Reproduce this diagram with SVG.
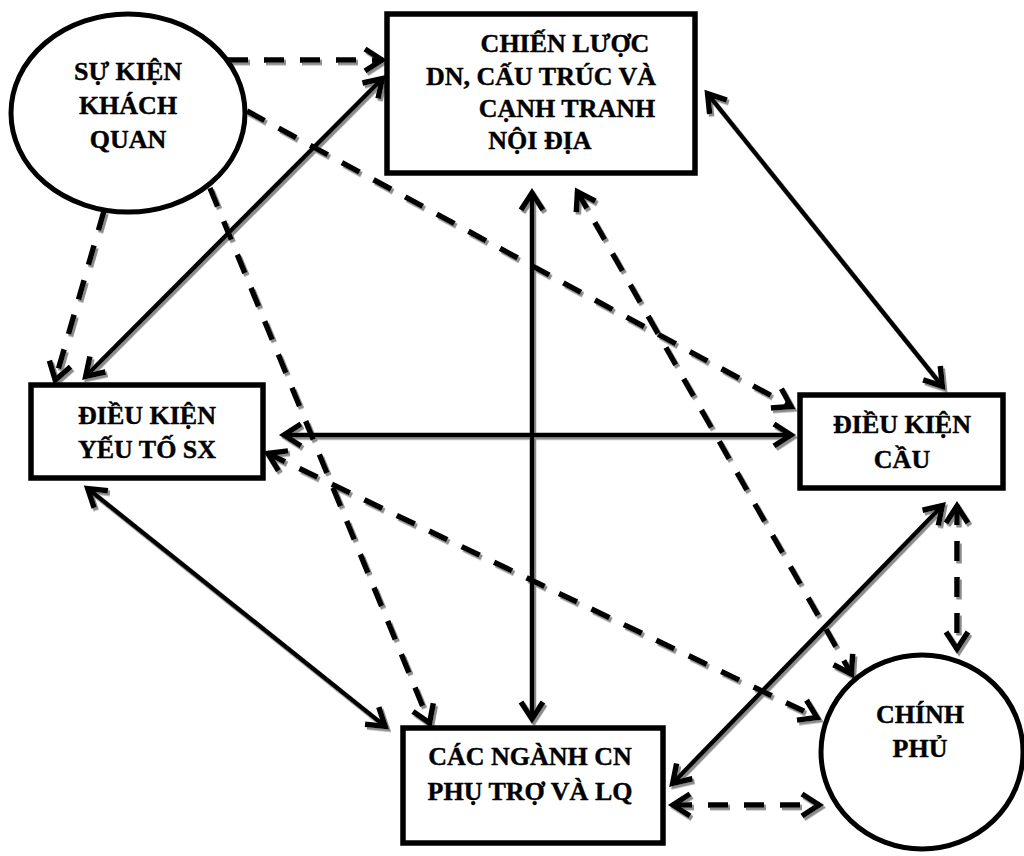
<svg xmlns="http://www.w3.org/2000/svg" width="1024" height="856" viewBox="0 0 1024 856">
<style>
.node{fill:#fff;stroke:#000;stroke-width:5.5}
.ell{fill:#fff;stroke:#000;stroke-width:5}
.t{font-family:"Liberation Serif","Times New Roman","DejaVu Serif",serif;font-weight:bold;font-size:26px;fill:#000;stroke:#000;stroke-width:0.4;text-anchor:middle}
.c{fill:none;stroke:#000;stroke-width:4.5;marker-end:url(#ah)}
.d{stroke-width:5.5;stroke-dasharray:20 16}
.b{marker-start:url(#ah)}
</style>
<defs>
<marker id="ah" markerUnits="userSpaceOnUse" viewBox="-24 -16 32 32" markerWidth="32" markerHeight="32" refX="1" refY="0" orient="auto-start-reverse">
<path d="M-17,-11 L0,0 L-17,11" fill="none" stroke="#000" stroke-width="5.5" stroke-dasharray="none" stroke-linejoin="miter"/>
</marker>
<filter id="sh" x="-10%" y="-10%" width="120%" height="120%">
<feDropShadow dx="2" dy="2.5" stdDeviation="0.4" flood-color="#8c8c8c" flood-opacity="1"/>
</filter>
</defs>
<rect width="1024" height="856" fill="#fff"/>
<g id="connectors" filter="url(#sh)">
<path class="c d" d="M228,60 L383,60"/>
<path class="c b" d="M383,78 L85,377"/>
<path class="c d" d="M247,111 L792,407"/>
<path class="c d" d="M104,211 L55,381"/>
<path class="c d" d="M210,188 L430,724"/>
<path class="c b" d="M707,93 L943,387"/>
<path class="c b" d="M532,192 L532,720"/>
<path class="c d b" d="M577,191 L852,675"/>
<path class="c b" d="M283,435 L792,435"/>
<path class="c d b" d="M267,453 L818,718"/>
<path class="c b" d="M87,488 L386,727"/>
<path class="c b" d="M943,505 L672,784"/>
<path class="c d b" d="M957,505 L957,650"/>
<path class="c d b" d="M672,805 L820,805"/>
</g>
<g id="su-kien">
<ellipse class="ell" cx="128" cy="113" rx="117" ry="99"/>
<text class="t" x="128" y="80">SỰ KIỆN</text>
<text class="t" x="128" y="114">KHÁCH</text>
<text class="t" x="128" y="148">QUAN</text>
</g>
<g id="chien-luoc">
<rect class="node" x="387" y="14" width="308" height="159"/>
<text class="t" x="565" y="52">CHIẾN LƯỢC</text>
<text class="t" x="541" y="85">DN, CẤU TRÚC VÀ</text>
<text class="t" x="567" y="117">CẠNH TRANH</text>
<text class="t" x="540" y="149">NỘI ĐỊA</text>
</g>
<g id="yeu-to">
<rect class="node" x="31" y="385" width="232" height="93"/>
<text class="t" x="147" y="424">ĐIỀU KIỆN</text>
<text class="t" x="147" y="458">YẾU TỐ SX</text>
</g>
<g id="cau">
<rect class="node" x="800" y="395" width="203" height="93"/>
<text class="t" x="902" y="433">ĐIỀU KIỆN</text>
<text class="t" x="902" y="468">CẦU</text>
</g>
<g id="nganh">
<rect class="node" x="403" y="728" width="260" height="115"/>
<text class="t" x="530" y="765">CÁC NGÀNH CN</text>
<text class="t" x="530" y="800">PHỤ TRỢ VÀ LQ</text>
</g>
<g id="chinh-phu">
<ellipse class="ell" cx="922" cy="752" rx="101" ry="97"/>
<text class="t" x="920" y="723">CHÍNH</text>
<text class="t" x="920" y="757">PHỦ</text>
</g>
</svg>
